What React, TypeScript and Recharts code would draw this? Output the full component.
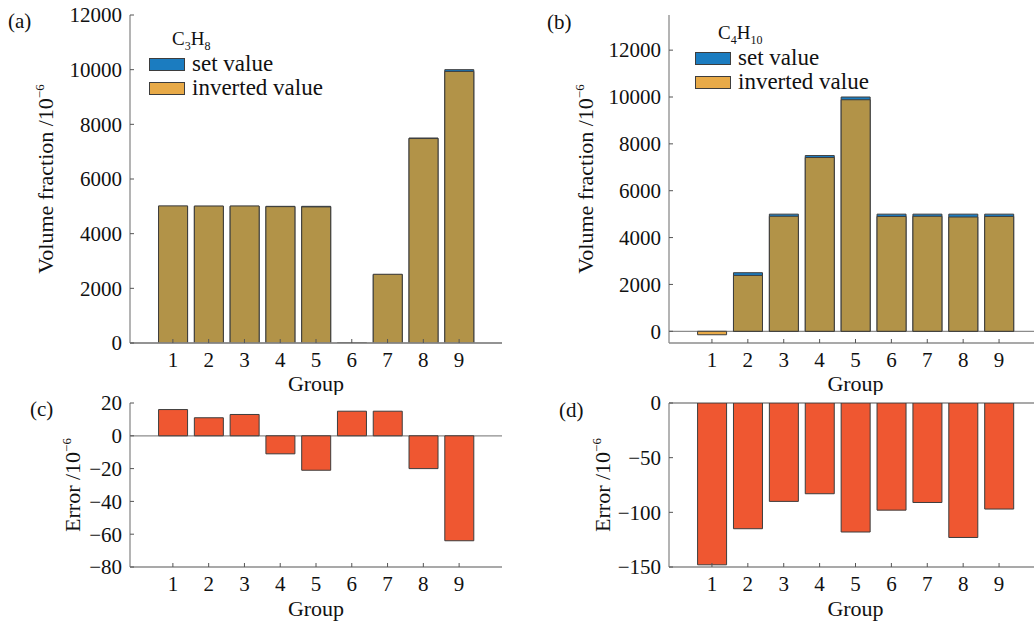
import React from 'react';
import { BarChart, Bar, XAxis, YAxis, Cell, Legend, CartesianGrid } from 'recharts';

const groups = ['1', '2', '3', '4', '5', '6', '7', '8', '9'];

// panel (a) C3H8
const c3h8Set = [5000, 5000, 5000, 5000, 5000, 0, 2500, 7500, 10000];
const c3h8Inverted = [5016, 5011, 5013, 4989, 4979, 15, 2515, 7480, 9936];
const c3h8Ticks = [0, 2000, 4000, 6000, 8000, 10000, 12000];

// panel (b) C4H10
const c4h10Set = [0, 2500, 5000, 7500, 10000, 5000, 5000, 5000, 5000];
const c4h10Inverted = [-148, 2385, 4910, 7417, 9882, 4902, 4909, 4877, 4903];
const c4h10Ticks = [0, 2000, 4000, 6000, 8000, 10000, 12000];

// panels (c) and (d) errors
const c3h8Error = [16, 11, 13, -11, -21, 15, 15, -20, -64];
const c3h8ErrorTicks = [-80, -60, -40, -20, 0, 20];
const c4h10Error = [-148, -115, -90, -83, -118, -98, -91, -123, -97];
const c4h10ErrorTicks = [-150, -100, -50, 0];

const legendOrder = ['set', 'inverted'];

const FONT = '"Liberation Serif", "DejaVu Serif", serif';
const BLUE = '#1b7cc0';
const ORANGE = '#e8aa48';
const OLIVE = '#b29348';
const RED = '#ef5731';
const BOX = '#8c8c8c';
const EDGE = '#3d3d3d';
const TEXT = '#111';

const X_MARGIN = 9;
const Y_MARGIN = 8;
const PAD = { left: 25, right: 25 };
const boxLine = { stroke: BOX, strokeWidth: 1.3 };

const fmt = (v: number | string) => String(v).replace('-', '\u2212');

const XTick = (props: any) => {
  const { x, y, payload } = props;
  const axisY = y - X_MARGIN;
  return (
    <g>
      <line x1={x} x2={x} y1={axisY} y2={axisY - 4} stroke="#555" />
      <text x={x} y={y} dy="0.71em" textAnchor="middle" fontSize={21} fill={TEXT} fontFamily={FONT}>
        {payload.value}
      </text>
    </g>
  );
};

const YTick = (props: any) => {
  const { x, y, payload } = props;
  const axisX = x + Y_MARGIN;
  return (
    <g>
      <line x1={axisX} x2={axisX + 4} y1={y} y2={y} stroke="#555" />
      <text x={x} y={y} dy="0.35em" textAnchor="end" fontSize={21} fill={TEXT} fontFamily={FONT}>
        {fmt(payload.value)}
      </text>
    </g>
  );
};

const yLabel = (cx: number, text: string) => (props: any) => {
  const vb = props.viewBox;
  const cy = vb.y + vb.height / 2;
  return (
    <text
      x={cx}
      y={cy}
      transform={`rotate(-90 ${cx} ${cy})`}
      textAnchor="middle"
      dy="0.35em"
      fontSize={22}
      fill={TEXT}
      fontFamily={FONT}
    >
      {text}
      <tspan dy={-9} fontSize={13}>{'\u22126'}</tspan>
    </text>
  );
};

const legendContent = (gas: string, sub: string, sub2: string) => (props: any) => {
  const payload = [...(props.payload || [])].sort(
    (a: any, b: any) => legendOrder.indexOf(a.dataKey) - legendOrder.indexOf(b.dataKey)
  );
  return (
    <div style={{ fontFamily: FONT, color: TEXT }}>
      <div style={{ paddingLeft: 23, height: 22, lineHeight: '18px', fontSize: 19 }}>
        {gas[0]}
        <sub style={{ fontSize: 12, lineHeight: 0 }}>{sub}</sub>
        {gas[1]}
        <sub style={{ fontSize: 12, lineHeight: 0 }}>{sub2}</sub>
      </div>
      {payload.map((p: any) => (
        <div key={p.value} style={{ display: 'flex', alignItems: 'center', height: 24 }}>
          <div
            style={{
              width: 34,
              height: 11,
              background: p.color,
              border: `1px solid ${EDGE}`,
              marginRight: 7,
            }}
          />
          <span style={{ fontSize: 23, lineHeight: '24px' }}>{p.value}</span>
        </div>
      ))}
    </div>
  );
};

const c3h8Data = groups.map((g, i) => ({ group: g, set: c3h8Set[i], inverted: c3h8Inverted[i] }));
const c4h10Data = groups.map((g, i) => ({ group: g, set: c4h10Set[i], inverted: c4h10Inverted[i] }));
const c3h8ErrData = groups.map((g, i) => ({ group: g, error: c3h8Error[i] }));
const c4h10ErrData = groups.map((g, i) => ({ group: g, error: c4h10Error[i] }));

type FracProps = {
  data: { group: string; set: number; inverted: number }[];
  domain: [number, number];
  ticks: number[];
  width: number;
  marginLeft: number;
  labelX: number;
  legendPos: { left: number; top: number };
  legend: (props: any) => React.ReactNode;
};

const FractionChart = ({ data, domain, ticks, width, marginLeft, labelX, legendPos, legend }: FracProps) => (
  <BarChart
    width={width}
    height={395}
    data={data}
    margin={{ top: 15, right: 8, left: marginLeft, bottom: 0 }}
    barCategoryGap="10%"
  >
    <CartesianGrid xAxisId="set" vertical={false} horizontalValues={[0]} stroke={BOX} strokeWidth={1.3} />
    <XAxis
      xAxisId="set"
      dataKey="group"
      height={52}
      padding={PAD}
      axisLine={boxLine}
      tickLine={false}
      tickSize={0}
      tickMargin={X_MARGIN}
      tick={XTick}
      interval={0}
      label={{ value: 'Group', position: 'insideBottom', offset: 4, fontSize: 22, fill: TEXT, fontFamily: FONT }}
    />
    <XAxis xAxisId="inv" dataKey="group" hide height={0} padding={PAD} />
    <XAxis xAxisId="top" orientation="top" dataKey="group" height={0} padding={PAD} tick={false} tickLine={false} axisLine={boxLine} />
    <YAxis
      width={90}
      domain={domain}
      ticks={ticks}
      allowDataOverflow
      axisLine={boxLine}
      tickLine={false}
      tickSize={0}
      tickMargin={Y_MARGIN}
      tick={YTick}
      interval={0}
      label={yLabel(labelX, 'Volume fraction /10')}
    />
    <YAxis yAxisId="right" orientation="right" width={0} domain={domain} tick={false} tickLine={false} axisLine={boxLine} />
    <Bar xAxisId="set" dataKey="set" name="set value" fill={BLUE} stroke={EDGE} strokeWidth={1} isAnimationActive={false} />
    <Bar xAxisId="inv" dataKey="inverted" name="inverted value" fill={ORANGE} stroke={EDGE} strokeWidth={1} isAnimationActive={false}>
      {data.map((d) => (
        <Cell key={d.group} fill={d.inverted < 0 ? ORANGE : OLIVE} />
      ))}
    </Bar>
    <Legend
      layout="horizontal"
      verticalAlign="middle"
      align="center"
      wrapperStyle={{ left: legendPos.left, top: legendPos.top, width: 'auto' }}
      content={legend}
    />
  </BarChart>
);

type ErrProps = {
  data: { group: string; error: number }[];
  domain: [number, number];
  ticks: number[];
  width: number;
  marginLeft: number;
  labelX: number;
};

const ErrorChart = ({ data, domain, ticks, width, marginLeft, labelX }: ErrProps) => (
  <BarChart
    width={width}
    height={232}
    data={data}
    margin={{ top: 13, right: 8, left: marginLeft, bottom: 0 }}
    barCategoryGap="10%"
  >
    <CartesianGrid vertical={false} horizontalValues={[0]} stroke={BOX} strokeWidth={1.3} />
    <XAxis
      dataKey="group"
      height={55}
      padding={PAD}
      axisLine={boxLine}
      tickLine={false}
      tickSize={0}
      tickMargin={X_MARGIN}
      tick={XTick}
      interval={0}
      label={{ value: 'Group', position: 'insideBottom', offset: 6, fontSize: 22, fill: TEXT, fontFamily: FONT }}
    />
    <XAxis xAxisId="top" orientation="top" dataKey="group" height={0} padding={PAD} tick={false} tickLine={false} axisLine={boxLine} />
    <YAxis
      width={90}
      domain={domain}
      ticks={ticks}
      allowDataOverflow
      axisLine={boxLine}
      tickLine={false}
      tickSize={0}
      tickMargin={Y_MARGIN}
      tick={YTick}
      interval={0}
      label={yLabel(labelX, 'Error /10')}
    />
    <YAxis yAxisId="right" orientation="right" width={0} domain={domain} tick={false} tickLine={false} axisLine={boxLine} />
    <Bar dataKey="error" fill={RED} stroke={EDGE} strokeWidth={1} isAnimationActive={false} />
  </BarChart>
);

const panelTag = (text: string, left: number, top: number) => (
  <span style={{ position: 'absolute', left, top, fontSize: 21, lineHeight: '22px', color: TEXT }}>{text}</span>
);

export default function App() {
  return (
    <div
      style={{
        position: 'absolute',
        left: 0,
        top: 0,
        width: 1034,
        height: 622,
        overflow: 'hidden',
        background: '#fff',
        fontFamily: FONT,
      }}
    >
      <div style={{ position: 'absolute', left: 0, top: 0 }}>
        <FractionChart
          data={c3h8Data}
          domain={[0, 12000]}
          ticks={c3h8Ticks}
          width={510}
          marginLeft={40}
          labelX={45}
          legendPos={{ left: 149, top: 30 }}
          legend={legendContent('CH', '3', '8')}
        />
      </div>
      <div style={{ position: 'absolute', left: 520, top: 0 }}>
        <FractionChart
          data={c4h10Data}
          domain={[-500, 13500]}
          ticks={c4h10Ticks}
          width={530}
          marginLeft={59}
          labelX={65}
          legendPos={{ left: 175, top: 24 }}
          legend={legendContent('CH', '4', '10')}
        />
      </div>
      <div style={{ position: 'absolute', left: 0, top: 390 }}>
        <ErrorChart data={c3h8ErrData} domain={[-80, 20]} ticks={c3h8ErrorTicks} width={510} marginLeft={40} labelX={72} />
      </div>
      <div style={{ position: 'absolute', left: 520, top: 390 }}>
        <ErrorChart data={c4h10ErrData} domain={[-150, 0]} ticks={c4h10ErrorTicks} width={530} marginLeft={59} labelX={82} />
      </div>
      {panelTag('(a)', 8, 10)}
      {panelTag('(b)', 547, 11)}
      {panelTag('(c)', 30, 398)}
      {panelTag('(d)', 559, 399)}
    </div>
  );
}
